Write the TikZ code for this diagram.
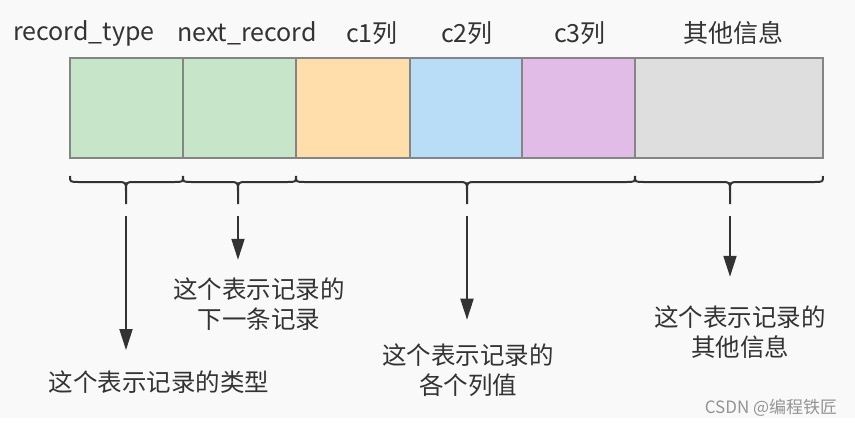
\documentclass[tikz,border=0pt]{standalone}
\usepackage{fontspec}
\setmainfont{Noto Sans CJK SC}
\usetikzlibrary{arrows.meta}
\definecolor{recbg}{HTML}{F9F9F9}
\definecolor{recgreen}{HTML}{C7E5C9}
\definecolor{recorange}{HTML}{FFDEAB}
\definecolor{recblue}{HTML}{B9DCF7}
\definecolor{recpurple}{HTML}{E1BCE6}
\definecolor{recgray}{HTML}{DEDEDE}
\definecolor{recink}{HTML}{333333}
\definecolor{recedge}{HTML}{858585}
% brace under a group of cells: left x, tip x, right x
\newcommand\recbrace[3]{%
\draw[brc] (#1,176)..controls (#1,182) and (#1,182)..(#1+9,182)--(#2-9,182)..controls (#2,182) and (#2,182)..(#2,191)--(#2,204)
 (#2,191)..controls (#2,182) and (#2,182)..(#2+9,182)--(#3-9,182)..controls (#3,182) and (#3,182)..(#3,176);}

\begin{document}
\begin{tikzpicture}[x=1pt,y=-1pt,line width=1.2pt,
 hd/.style={inner sep=0pt,text=recink,font=\fontsize{25}{30}\selectfont},
 txt/.style={inner sep=0pt,text=recink,align=center,font=\fontsize{24.5}{29.5}\selectfont},
 brc/.style={draw=recink,line width=2pt},
 arr/.style={draw=recink,line width=2pt,-{Triangle[length=21pt,width=13pt]}}]
\useasboundingbox (0,0) rectangle (855,426);
\fill[recbg] (0,0) rectangle (855,418);
% cells
\draw[draw=recedge,fill=recgreen] (70,58) rectangle (183,158);
\draw[draw=recedge,fill=recgreen] (183,58) rectangle (296,158);
\draw[draw=recedge,fill=recorange] (296,58) rectangle (410,158);
\draw[draw=recedge,fill=recblue] (410,58) rectangle (522,158);
\draw[draw=recedge,fill=recpurple] (522,58) rectangle (635,158);
\draw[draw=recedge,fill=recgray] (635,58) rectangle (823,158);
% column names
\node[hd] (h1) at (84,33) {record\_type};
\node[hd] (h2) at (247,33) {next\_record};
\node[hd] (h3) at (372,33) {c1列};
\node[hd] (h4) at (467,33) {c2列};
\node[hd] (h5) at (580,33) {c3列};
\node[hd] (h6) at (733,33) {其他信息};
% braces
\recbrace{70}{126}{183}
\recbrace{183}{238}{296}
\recbrace{296}{467}{635}
\recbrace{635}{730}{823}
\coordinate (t1) at (126,216);
\coordinate (t2) at (238,216);
\coordinate (t3) at (467,216);
\coordinate (t4) at (730,216);
% notes
\node[txt] (d1) at (159,382) {这个表示记录的类型};
\node[txt] (d2) at (259,304) {这个表示记录的\\下一条记录};
\node[txt] (d3) at (468,370) {这个表示记录的\\各个列值};
\node[txt] (d4) at (740,332) {这个表示记录的\\其他信息};
\draw[arr,shorten >=20pt] (t1)--(t1|-d1.north);
\draw[arr,shorten >=17.5pt] (t2)--(t2|-d2.north);
\draw[arr,shorten >=23.5pt] (t3)--(t3|-d3.north);
\draw[arr,shorten >=28.5pt] (t4)--(t4|-d4.north);
\node[inner sep=0pt,text=black!42,font=\fontsize{17}{19}\selectfont] (wm) at (771,408) {CSDN @编程铁匠};
\end{tikzpicture}
\end{document}
